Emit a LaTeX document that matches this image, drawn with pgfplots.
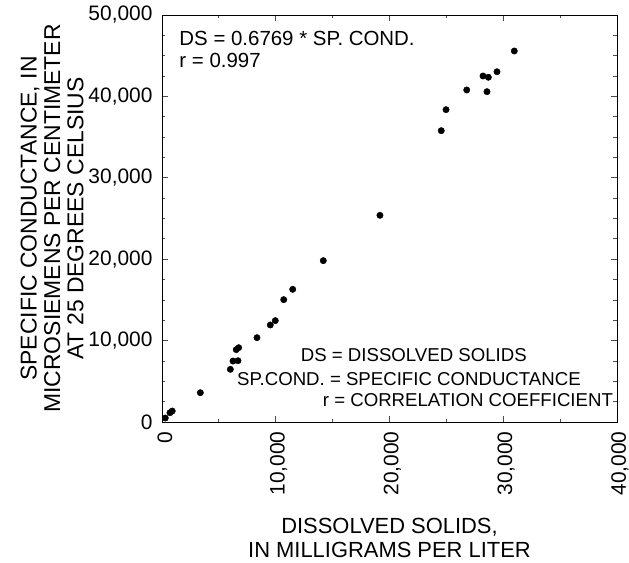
\documentclass[border=0pt]{standalone}
\usepackage{pgfplots}
\pgfplotsset{compat=1.18}
\usepackage{fontspec}
\setmainfont{Liberation Sans}

% dissolved solids (mg/L) vs specific conductance (uS/cm)
\pgfplotstableread{
ds     sc
290    490
700    1140
900    1350
3370   3600
6010   6470
6240   7490
6680   7530
6530   8890
6740   9130
8350   10360
9520   11920
9960   12450
10700  15030
11490  16300
14180  19820
19160  25390
24550  35790
24970  38370
28570  40580
26790  40790
28690  42350
28220  42510
29450  43030
30970  45580
}\datatable

\begin{document}
\begin{tikzpicture}
\begin{axis}[
    at={(0,0)}, anchor=south west,
    scale only axis,
    width=455bp, height=407bp,
    xmin=0, xmax=40000, ymin=0, ymax=50000,
    xtick={0,10000,20000,30000,40000},
    ytick={0,10000,20000,30000,40000,50000},
    minor x tick num=1,
    minor y tick num=3,
    tick align=inside,
    major tick length=6bp,
    minor tick length=3.5bp,
    every tick/.style={black!70, line width=0.8bp},
    axis line style={black, line width=0.8bp},
    scaled ticks=false,
    /pgf/number format/.cd, 1000 sep={,}, assume math mode=true,
    /pgfplots/.cd,
    tick label style={font=\fontsize{21}{21}\selectfont},
    xticklabel style={rotate=90, anchor=east, xshift=-6bp, yshift=-3bp},
    yticklabel style={xshift=-6bp},
    xlabel={DISSOLVED SOLIDS,\\IN MILLIGRAMS PER LITER},
    xlabel style={font=\fontsize{22}{24}\selectfont, align=center, yshift=-16bp},
    ylabel={SPECIFIC CONDUCTANCE, IN\\MICROSIEMENS PER CENTIMETER\\AT 25 DEGREES CELSIUS},
    ylabel style={font=\fontsize{23}{23.5}\selectfont, align=center, yshift=-2bp},
]
\addplot[only marks, mark=*, mark size=3.2bp, black] table[x=ds, y=sc] {\datatable};

\node[anchor=base west, inner sep=0, font=\fontsize{20.5}{20.5}\selectfont]
  at (axis cs:1521,46314) {DS = 0.6769 * SP. COND.};
\node[anchor=base west, inner sep=0, font=\fontsize{20.5}{20.5}\selectfont]
  at (axis cs:1521,43489) {r = 0.997};

\node[anchor=base west, inner sep=0, font=\fontsize{18.7}{18.7}\selectfont]
  at (axis cs:12193,7408) {DS = DISSOLVED SOLIDS};
\node[anchor=base west, inner sep=0, font=\fontsize{18.7}{18.7}\selectfont]
  at (axis cs:6593,4545) {SP.COND. = SPECIFIC CONDUCTANCE};
\node[anchor=base west, inner sep=0, font=\fontsize{18.7}{18.7}\selectfont]
  at (axis cs:14128,1880) {r = CORRELATION COEFFICIENT};
\end{axis}
\pgfresetboundingbox
\path[use as bounding box] (-162bp,-141bp) rectangle (467bp,422bp);
\end{tikzpicture}
\end{document}
